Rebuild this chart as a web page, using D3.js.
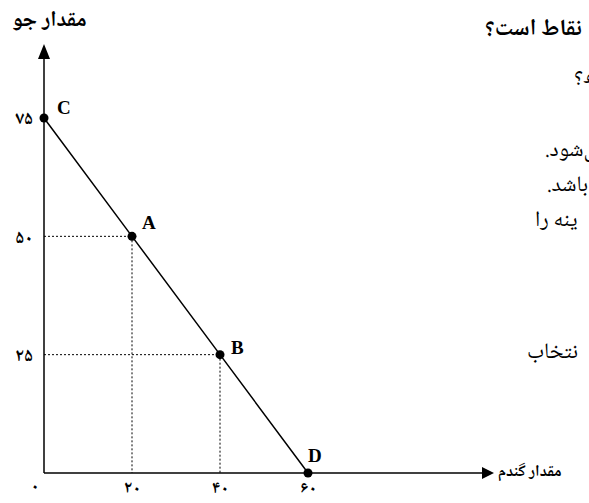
<!DOCTYPE html>
<html>
<head>
<meta charset="utf-8">
<script src="https://cdn.jsdelivr.net/npm/d3@7"></script>
<style>
  body { margin: 0; background: #fff; }
  svg { display: block; }
  .fa { font-family: "Noto Naskh Arabic", "Noto Sans Arabic", "DejaVu Sans", sans-serif; }
  .letter { font-family: "Liberation Serif", "Times New Roman", serif; font-weight: bold; font-size: 19px; }
</style>
</head>
<body>
<svg id="chart" width="589" height="503"></svg>
<script>
const width = 589;
const height = 503;

// نقاط منحنی امکانات تولید
const pointNames = ["C", "A", "B", "D"];
const wheat = [0, 20, 40, 60];      // مقدار گندم
const barley = [75, 50, 25, 0];     // مقدار جو

const xTicks = [20, 40, 60];
const yTicks = [25, 50, 75];

const xTitle = "مقدار گندم";
const yTitle = "مقدار جو";

// تکه‌های متن صفحه که کنار نمودار بریده شده‌اند
const sideTexts = ["نقاط است؟", "ه؟", "ی‌شود.", "باشد.", "ینه را", "نتخاب"];

const faDigits = "۰۱۲۳۴۵۶۷۸۹";
const toFa = n => String(n).replace(/\d/g, c => faDigits[+c]);

const svg = d3.select("#chart");

const x = d3.scaleLinear().domain([0, 60]).range([44, 308]);
const y = d3.scaleLinear().domain([0, 75]).range([473, 118]);

const data = pointNames.map((name, i) => ({ name, x: wheat[i], y: barley[i] }));

// خطوط نقطه‌چین راهنما
data.filter(d => d.x > 0 && d.y > 0).forEach(d => {
    svg.append("path")
        .attr("d", `M${x(0)},${y(d.y)}H${x(d.x)}V${y(0)}`)
        .attr("fill", "none")
        .attr("stroke", "#000")
        .attr("stroke-width", 1)
        .attr("stroke-dasharray", "2,2");
});

// محورها با پیکان
svg.append("line")
    .attr("x1", x(0)).attr("y1", y(0))
    .attr("x2", 485).attr("y2", y(0))
    .attr("stroke", "#000").attr("stroke-width", 1.5);
svg.append("path")
    .attr("d", `M494,${y(0)}L482,${y(0) - 6}L482,${y(0) + 6}Z`)
    .attr("fill", "#000");

svg.append("line")
    .attr("x1", x(0)).attr("y1", y(0))
    .attr("x2", x(0)).attr("y2", 58)
    .attr("stroke", "#000").attr("stroke-width", 1.5);
svg.append("path")
    .attr("d", `M${x(0)},44L${x(0) - 6},59L${x(0) + 6},59Z`)
    .attr("fill", "#000");

// برچسب تیک‌ها
const xAxis = svg.append("g")
    .attr("transform", `translate(0,${y(0)})`)
    .call(d3.axisBottom(x).tickValues(xTicks).tickSize(0).tickPadding(15).tickFormat(toFa));
xAxis.select(".domain").remove();
xAxis.selectAll("text")
    .attr("class", "fa")
    .attr("dy", 0)
    .attr("dominant-baseline", "middle")
    .attr("font-size", 17)
    .attr("font-weight", "bold");

const yAxis = svg.append("g")
    .attr("transform", `translate(${x(0)},0)`)
    .call(d3.axisLeft(y).tickValues(yTicks).tickSize(0).tickPadding(11).tickFormat(toFa));
yAxis.select(".domain").remove();
yAxis.selectAll("text").attr("class", "fa").attr("font-size", 18).attr("font-weight", "bold");

svg.append("text")
    .attr("class", "fa")
    .attr("x", 35).attr("y", 486)
    .attr("text-anchor", "middle")
    .attr("dominant-baseline", "middle")
    .attr("font-size", 17)
    .attr("font-weight", "bold")
    .text(toFa(0));

// منحنی
svg.append("path")
    .datum(data)
    .attr("d", d3.line().x(d => x(d.x)).y(d => y(d.y)))
    .attr("fill", "none")
    .attr("stroke", "#000")
    .attr("stroke-width", 1.5);

svg.selectAll("circle.pt")
    .data(data)
    .enter()
    .append("circle")
    .attr("class", "pt")
    .attr("cx", d => x(d.x))
    .attr("cy", d => y(d.y))
    .attr("r", 4.5)
    .attr("fill", "#000");

const labelOffset = { C: [13, -4], A: [10, -7], B: [11, -1], D: [0, -11] };
svg.selectAll("text.letter")
    .data(data)
    .enter()
    .append("text")
    .attr("class", "letter")
    .attr("x", d => x(d.x) + labelOffset[d.name][0])
    .attr("y", d => y(d.y) + labelOffset[d.name][1])
    .text(d => d.name);

// عنوان محورها
svg.append("text")
    .attr("class", "fa")
    .attr("x", 12).attr("y", 20)
    .attr("direction", "rtl")
    .attr("text-anchor", "end")
    .attr("dominant-baseline", "middle")
    .attr("font-size", 22)
    .attr("font-weight", "bold")
    .text(yTitle);

svg.append("text")
    .attr("class", "fa")
    .attr("x", 498).attr("y", 471)
    .attr("direction", "rtl")
    .attr("text-anchor", "end")
    .attr("dominant-baseline", "middle")
    .attr("font-size", 16)
    .attr("font-weight", "bold")
    .text(xTitle);

// متن بریده شده سمت راست (لبه چپ هر سطر)
const sidePos = [[485, 28, true], [574, 77, false], [545, 150, false], [547, 185, false], [535, 220, false], [527, 352, false]];
sideTexts.forEach((t, i) => {
    svg.append("text")
        .attr("class", "fa")
        .attr("x", sidePos[i][0]).attr("y", sidePos[i][1])
        .attr("direction", "rtl")
        .attr("text-anchor", "end")
        .attr("dominant-baseline", "middle")
        .attr("font-size", sidePos[i][2] ? 23 : 22)
        .attr("font-weight", sidePos[i][2] ? "bold" : "normal")
        .text(t);
});
</script>
</body>
</html>
